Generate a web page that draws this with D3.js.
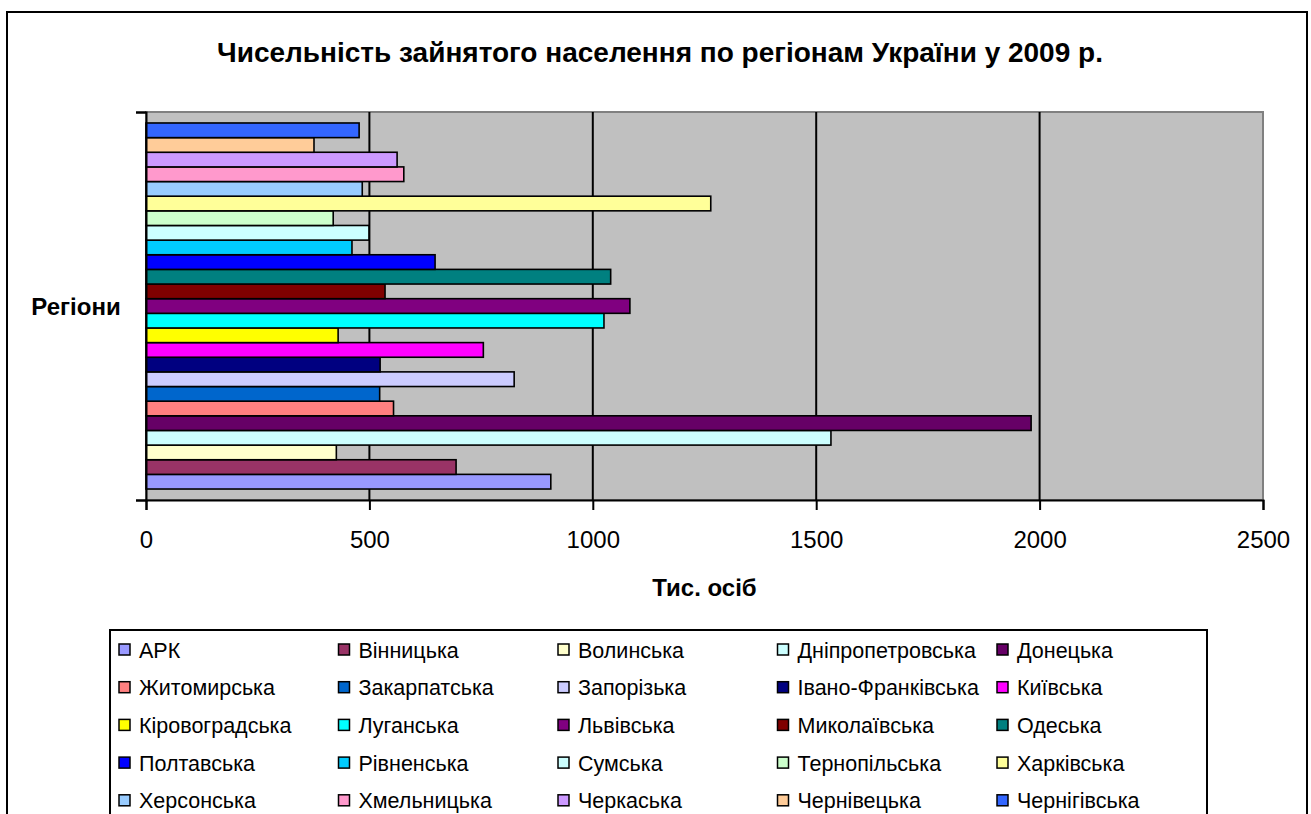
<!DOCTYPE html>
<html>
<head>
<meta charset="utf-8">
<script src="https://cdn.jsdelivr.net/npm/d3@7"></script>
<style>
  body { margin: 0; background: #fff; }
  text { font-family: "Liberation Sans", Arial, sans-serif; }
</style>
</head>
<body>
<div id="chart"></div>
<script>
// regions, from bottom bar to top bar (same order as legend)
var regions = ["АРК", "Вінницька", "Волинська", "Дніпропетровська", "Донецька",
  "Житомирська", "Закарпатська", "Запорізька", "Івано-Франківська", "Київська",
  "Кіровоградська", "Луганська", "Львівська", "Миколаївська", "Одеська",
  "Полтавська", "Рівненська", "Сумська", "Тернопільська", "Харківська",
  "Херсонська", "Хмельницька", "Черкаська", "Чернівецька", "Чернігівська"];

// тис. осіб
var values = [906, 694, 426, 1533, 1981,
  554, 523, 824, 524, 755,
  430, 1025, 1083, 535, 1040,
  647, 461, 499, 419, 1264,
  484, 577, 562, 376, 477];

var colors = ["#9999FF", "#993366", "#FFFFCC", "#CCFFFF", "#660066",
  "#FF8080", "#0066CC", "#CCCCFF", "#000080", "#FF00FF",
  "#FFFF00", "#00FFFF", "#800080", "#800000", "#008080",
  "#0000FF", "#00CCFF", "#CCFFFF", "#CCFFCC", "#FFFF99",
  "#99CCFF", "#FF99CC", "#CC99FF", "#FFCC99", "#3366FF"];

var xTicks = [0, 500, 1000, 1500, 2000, 2500];

var title = "Чисельність зайнятого населення по регіонам України у 2009 р.";
var yTitle = "Регіони";
var xTitle = "Тис. осіб";

var W = 1311, H = 814;
var plot = {left: 146, right: 1263, top: 112, bottom: 500};

var svg = d3.select("#chart").append("svg")
  .attr("width", W)
  .attr("height", H);

// outer chart frame (runs off the bottom like the original)
svg.append("rect")
  .attr("x", 7).attr("y", 12)
  .attr("width", 1300).attr("height", 900)
  .style("fill", "#fff")
  .style("stroke", "#000")
  .style("stroke-width", 2);

svg.append("text")
  .attr("x", 660).attr("y", 62)
  .attr("text-anchor", "middle")
  .style("font-size", "28px")
  .style("font-weight", "bold")
  .text(title);

var x = d3.scaleLinear()
  .domain([0, 2500])
  .range([plot.left, plot.right]);

var y = d3.scaleBand()
  .domain(d3.range(regions.length))
  .range([plot.bottom, plot.top])
  .paddingInner(0)
  .paddingOuter(0.75);

// plot background
svg.append("rect")
  .attr("x", plot.left).attr("y", plot.top)
  .attr("width", plot.right - plot.left)
  .attr("height", plot.bottom - plot.top)
  .style("fill", "#C0C0C0")
  .style("stroke", "#808080")
  .style("stroke-width", 2);

// gridlines
svg.append("g").selectAll("line")
  .data(xTicks.slice(1, -1))
  .enter().append("line")
  .attr("x1", function(d) { return x(d); })
  .attr("x2", function(d) { return x(d); })
  .attr("y1", plot.top)
  .attr("y2", plot.bottom)
  .style("stroke", "#000")
  .style("stroke-width", 2);

// bars
svg.append("g").selectAll("rect")
  .data(values)
  .enter().append("rect")
  .attr("x", x(0))
  .attr("y", function(d, i) { return y(i); })
  .attr("width", function(d) { return x(d) - x(0); })
  .attr("height", y.bandwidth())
  .style("fill", function(d, i) { return colors[i]; })
  .style("stroke", "#000")
  .style("stroke-width", 1.6);

// x axis
var xAxis = d3.axisBottom(x)
  .tickValues(xTicks)
  .tickSize(10)
  .tickPadding(21)
  .tickFormat(d3.format("d"));

var gx = svg.append("g")
  .attr("transform", "translate(0," + plot.bottom + ")")
  .call(xAxis);
gx.select(".domain").style("stroke", "#000").style("stroke-width", 2);
gx.selectAll(".tick line").style("stroke", "#000").style("stroke-width", 2);
gx.selectAll(".tick text")
  .style("font-size", "24px")
  .style("font-family", "'Liberation Sans', Arial, sans-serif")
  .attr("fill", "#000");

// y axis: single category, only end ticks
var yAxisScale = d3.scaleLinear().domain([0, 1]).range([plot.bottom, plot.top]);
var gy = svg.append("g")
  .attr("transform", "translate(" + plot.left + ",0)")
  .call(d3.axisLeft(yAxisScale).tickValues([0, 1]).tickSize(10).tickFormat(""));
gy.select(".domain").style("stroke", "#000").style("stroke-width", 2);
gy.selectAll(".tick line").style("stroke", "#000").style("stroke-width", 2);

svg.append("text")
  .attr("x", 76).attr("y", 315)
  .attr("text-anchor", "middle")
  .style("font-size", "24px")
  .style("font-weight", "bold")
  .text(yTitle);

svg.append("text")
  .attr("x", (plot.left + plot.right) / 2).attr("y", 596)
  .attr("text-anchor", "middle")
  .style("font-size", "24px")
  .style("font-weight", "bold")
  .text(xTitle);

// legend
var legend = svg.append("g");
legend.append("rect")
  .attr("x", 110).attr("y", 630)
  .attr("width", 1097).attr("height", 300)
  .style("fill", "#fff")
  .style("stroke", "#000")
  .style("stroke-width", 2);

var cols = 5, colW = 219.5, rowH = 37.7;
var items = legend.selectAll(".item")
  .data(regions)
  .enter().append("g")
  .attr("class", "item")
  .attr("transform", function(d, i) {
    return "translate(" + (119 + (i % cols) * colW) + "," + (650 + Math.floor(i / cols) * rowH) + ")";
  });

items.append("rect")
  .attr("x", 0).attr("y", -6)
  .attr("width", 11).attr("height", 11)
  .style("fill", function(d, i) { return colors[i]; })
  .style("stroke", "#000")
  .style("stroke-width", 1.5);

items.append("text")
  .attr("x", 20).attr("y", 7.5)
  .style("font-size", "21.5px")
  .text(function(d) { return d; });
</script>
</body>
</html>
